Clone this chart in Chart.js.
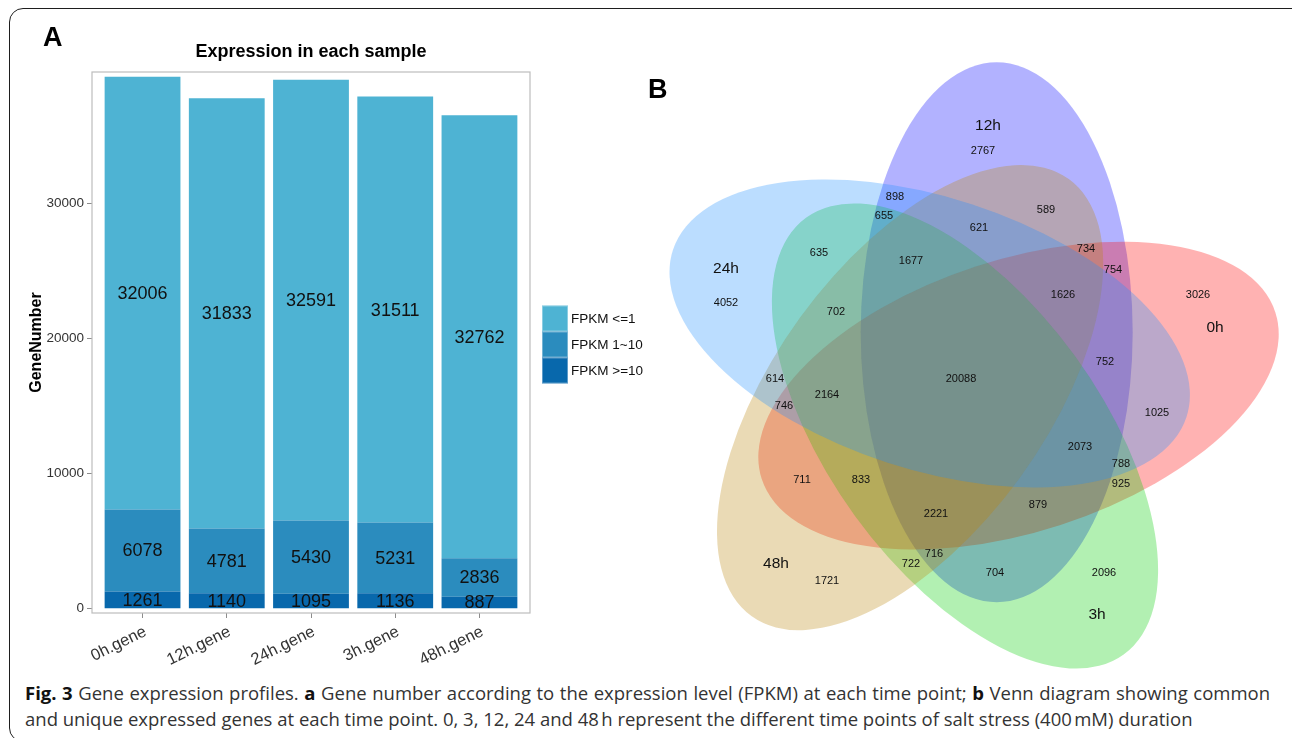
<!DOCTYPE html>
<html>
<head>
<meta charset="utf-8">
<title>Gene expression profiles</title>
<script src="https://cdn.jsdelivr.net/npm/chart.js@4.4.1/dist/chart.umd.min.js"></script>
<style>
  html, body { margin: 0; padding: 0; background: #fff; }
  body { width: 1292px; height: 738px; overflow: hidden; position: relative;
         font-family: "Liberation Sans", Arial, sans-serif; }
  .frame { position: absolute; left: 9px; top: 8px; width: 1300px; height: 734px;
           border: 1.5px solid #1e1e1e; border-radius: 14px; box-sizing: border-box; }
  .tag { position: absolute; font-weight: bold; font-size: 27px; line-height: 1; color: #000; }
  #barCanvas { position: absolute; left: 0; top: 0; }
  #vennCanvas { position: absolute; left: 640px; top: 40px; }
  .caption { position: absolute; left: 25px; font-family: "Open Sans", "Noto Sans", sans-serif;
             font-size: 18.5px; line-height: 26px; color: #333; white-space: nowrap; }
  .caption b { color: #111; }
  #capLine1 { top: 680px; width: 1245px; text-align: justify; text-align-last: justify; }
  #capLine2 { top: 706px; }
</style>
</head>
<body>
<div class="frame"></div>
<canvas id="barCanvas" width="650" height="668"></canvas>
<canvas id="vennCanvas" width="652" height="630"></canvas>
<div class="tag" style="left:43px;top:24px">A</div>
<div class="tag" style="left:648px;top:76px">B</div>
<div class="caption" id="capLine1"><b>Fig. 3</b> Gene expression profiles. <b>a</b> Gene number according to the expression level (FPKM) at each time point; <b>b</b> Venn diagram showing common</div>
<div class="caption" id="capLine2">and unique expressed genes at each time point. 0, 3, 12, 24 and 48&#8239;h represent the different time points of salt stress (400&#8239;mM) duration</div>

<script>
// ---------- Panel A: genes per FPKM class ----------
const categories = ['0h.gene', '12h.gene', '24h.gene', '3h.gene', '48h.gene'];
const fpkmLow  = [32006, 31833, 32591, 31511, 32762];   // FPKM <= 1
const fpkmMid  = [6078, 4781, 5430, 5231, 2836];        // FPKM 1~10
const fpkmHigh = [1261, 1140, 1095, 1136, 887];         // FPKM >= 10
const seriesNames = ['FPKM <=1', 'FPKM 1~10', 'FPKM >=10'];
const yTicks = [0, 10000, 20000, 30000];
const chartTitle = 'Expression in each sample';

// ---------- Panel B: five-way Venn of expressed genes ----------
const vennSets = ['12h', '0h', '3h', '48h', '24h'];
const regionCounts = [
  2767, 3026, 2096, 1721, 4052,
  898, 655, 589, 621, 635, 1677, 734, 754, 1626, 702, 752,
  20088, 614, 2164, 746, 1025, 2073, 788, 925, 711, 833, 879,
  2221, 716, 722, 704
];

const FONT = '"Liberation Sans", Arial, Helvetica, sans-serif';
const barColors = { low: '#4EB3D3', mid: '#2B8CBE', high: '#0868AC' };

const toPoints = arr => arr.map((v, i) => ({ x: i, y: v }));

// panel frame and the heading centred over it
const panelFrame = {
  id: 'panelFrame',
  afterDraw(chart) {
    const { ctx, chartArea: a } = chart;
    ctx.save();
    ctx.strokeStyle = '#bdbdbd';
    ctx.lineWidth = 1.2;
    ctx.strokeRect(a.left, a.top, a.right - a.left, a.bottom - a.top);
    ctx.fillStyle = '#000';
    ctx.font = 'bold 18px ' + FONT;
    ctx.textAlign = 'center';
    ctx.textBaseline = 'middle';
    ctx.fillText(chartTitle, (a.left + a.right) / 2, a.top - 20);
    ctx.restore();
  }
};

// value written in the middle of every stacked segment
const segmentLabels = {
  id: 'segmentLabels',
  afterDatasetsDraw(chart) {
    const { ctx } = chart;
    ctx.save();
    ctx.font = '18px ' + FONT;
    ctx.fillStyle = '#111';
    ctx.textAlign = 'center';
    ctx.textBaseline = 'middle';
    chart.data.datasets.forEach((ds, di) => {
      chart.getDatasetMeta(di).data.forEach((bar, i) => {
        ctx.fillText(String(ds.data[i].y), bar.x, (bar.y + bar.base) / 2 + 1);
      });
    });
    ctx.restore();
  }
};

// key with touching colour squares, top class first
const fpkmLegend = {
  id: 'fpkmLegend',
  afterDraw(chart) {
    const { ctx, chartArea: a } = chart;
    const size = 26;
    const items = chart.data.datasets.slice().reverse();
    const x0 = a.right + 12;
    const y0 = (a.top + a.bottom) / 2 - (items.length * size) / 2 + 2;
    ctx.save();
    ctx.font = '13.5px ' + FONT;
    ctx.textBaseline = 'middle';
    ctx.textAlign = 'left';
    items.forEach((ds, i) => {
      const y = y0 + i * size;
      ctx.fillStyle = ds.backgroundColor;
      ctx.fillRect(x0, y, size, size);
      ctx.strokeStyle = 'rgba(255,255,255,0.35)';
      ctx.lineWidth = 1;
      ctx.strokeRect(x0 + 0.5, y + 0.5, size - 1, size - 1);
      ctx.fillStyle = '#111';
      ctx.fillText(ds.label, x0 + size + 3, y + size / 2 + 1);
    });
    ctx.restore();
  }
};

new Chart(document.getElementById('barCanvas'), {
  type: 'bar',
  data: {
    datasets: [
      { label: seriesNames[2], data: toPoints(fpkmHigh), backgroundColor: barColors.high },
      { label: seriesNames[1], data: toPoints(fpkmMid),  backgroundColor: barColors.mid },
      { label: seriesNames[0], data: toPoints(fpkmLow),  backgroundColor: barColors.low }
    ]
  },
  options: {
    responsive: false,
    animation: false,
    devicePixelRatio: 1,
    layout: { padding: { left: 0, right: 120, top: 72, bottom: 0 } },
    datasets: { bar: { categoryPercentage: 1, barPercentage: 0.9, borderWidth: 0 } },
    plugins: {
      legend: { display: false },
      tooltip: { enabled: false },
      title: { display: false }
    },
    scales: {
      x: {
        type: 'linear',
        stacked: true,
        offset: false,
        min: -0.6,
        max: 4.6,
        afterBuildTicks: s => { s.ticks = categories.map((_, i) => ({ value: i })); },
        afterFit: s => { s.height = 55; },
        ticks: {
          autoSkip: false,
          minRotation: 26,
          maxRotation: 26,
          padding: 4,
          labelOffset: 3,
          color: '#333',
          font: { family: FONT, size: 16.5 },
          callback: v => categories[v]
        },
        grid: { offset: false, drawOnChartArea: false, tickLength: 5, color: '#8c8c8c' },
        border: { display: false }
      },
      y: {
        stacked: true,
        min: -320,
        max: 39690,
        afterBuildTicks: s => { s.ticks = yTicks.map(v => ({ value: v })); },
        afterFit: s => { s.width = 92; },
        ticks: { padding: 3, color: '#333', font: { family: FONT, size: 13.5 },
                 callback: v => String(v) },
        grid: { drawOnChartArea: false, tickLength: 5, color: '#8c8c8c' },
        border: { display: false },
        title: {
          display: true,
          text: 'GeneNumber',
          color: '#000',
          font: { family: FONT, size: 16, weight: 'bold' },
          padding: { top: 27, bottom: 0 }
        }
      }
    }
  },
  plugins: [panelFrame, segmentLabels, fpkmLegend]
});

// ---------- Venn layout (page pixel frame) ----------
const vennColors = ['#0000FF', '#FF0000', '#00CD00', '#B8860B', '#1E90FF'];
const vennCentre = { x: 964, y: 379 };
const ellipseShape = { offset: 57, startAngle: 35, semiMajor: 270, semiMinor: 136 };
const setLabelPos = [[988, 126], [1215, 328], [1097, 615], [776, 564], [726, 269]];
const regionLabelPos = [
  [983, 151], [1198, 295], [1104, 573], [827, 581], [726, 303],
  [895, 197], [884, 216], [1046, 210], [979, 228], [819, 253], [911, 261], [1086, 249], [1113, 270], [1063, 295], [836, 312], [1105, 362],
  [961, 379], [775, 379], [827, 395], [784, 406], [1157, 413], [1080, 447], [1121, 464], [1121, 484], [802, 480], [861, 480], [1038, 505],
  [936, 514], [934, 554], [911, 564], [995, 573]
];

// five ellipses, each turned 72 degrees from the previous one
const vennEllipses = {
  id: 'vennEllipses',
  beforeDatasetsDraw(chart) {
    const { ctx, scales: { x, y } } = chart;
    ctx.save();
    vennSets.forEach((name, k) => {
      const t = (ellipseShape.startAngle + 72 * k) * Math.PI / 180;
      const cx = vennCentre.x + ellipseShape.offset * Math.sin(t);
      const cy = vennCentre.y - ellipseShape.offset * Math.cos(t);
      const px = x.getPixelForValue(cx), py = y.getPixelForValue(cy);
      const rx = Math.abs(x.getPixelForValue(cx + ellipseShape.semiMinor) - px);
      const ry = Math.abs(y.getPixelForValue(cy + ellipseShape.semiMajor) - py);
      ctx.beginPath();
      ctx.ellipse(px, py, rx, ry, (72 * k) * Math.PI / 180, 0, Math.PI * 2);
      ctx.globalAlpha = 0.3;
      ctx.fillStyle = vennColors[k];
      ctx.fill();
    });
    ctx.restore();
  }
};

// counts and set names written at their points
const vennText = {
  id: 'vennText',
  afterDatasetsDraw(chart) {
    const { ctx } = chart;
    ctx.save();
    ctx.fillStyle = '#111';
    ctx.textAlign = 'center';
    ctx.textBaseline = 'middle';
    chart.data.datasets.forEach((ds, di) => {
      ctx.font = (di === 0 ? '11px ' : '15.5px ') + FONT;
      chart.getDatasetMeta(di).data.forEach((pt, i) => {
        ctx.fillText(ds.texts[i], pt.x, pt.y);
      });
    });
    ctx.restore();
  }
};

new Chart(document.getElementById('vennCanvas'), {
  type: 'scatter',
  data: {
    datasets: [
      { label: 'regions', texts: regionCounts.map(String),
        data: regionLabelPos.map(([px, py]) => ({ x: px, y: py })), pointRadius: 0 },
      { label: 'sets', texts: vennSets,
        data: setLabelPos.map(([px, py]) => ({ x: px, y: py })), pointRadius: 0 }
    ]
  },
  options: {
    responsive: false,
    animation: false,
    devicePixelRatio: 1,
    layout: { padding: 0 },
    plugins: { legend: { display: false }, tooltip: { enabled: false } },
    scales: {
      x: { type: 'linear', min: 640, max: 1292, display: false },
      y: { type: 'linear', min: 40, max: 670, reverse: true, display: false }
    }
  },
  plugins: [vennEllipses, vennText]
});

// caption: second line sized to about 1168px wide, first line justified to the full measure
(function fitCaption() {
  const line2 = document.getElementById('capLine2');
  const line1 = document.getElementById('capLine1');
  const w = line2.getBoundingClientRect().width;
  const size = 18.5 * 1168 / w;
  line1.style.fontSize = size + 'px';
  line2.style.fontSize = size + 'px';
})();
</script>
</body>
</html>
